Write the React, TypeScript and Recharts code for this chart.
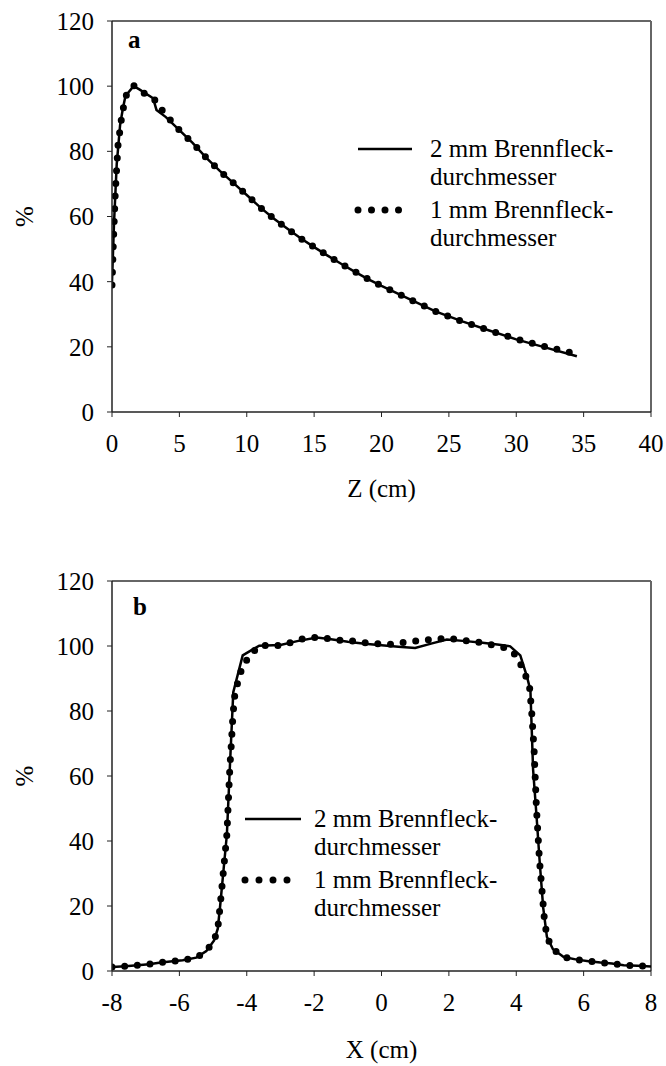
import React from "react";
import {
  Customized,
  Label,
  Legend,
  Line,
  LineChart,
  ReferenceLine,
  XAxis,
  YAxis,
} from "recharts";

const FONT = "'Liberation Serif', 'Times New Roman', serif";
const FS = 25;

// Panel a: depth dose, Z (cm) vs %
const zA2 = [0, 0.15, 0.35, 0.6, 0.8, 1.0, 1.6, 2.0, 3.05, 3.3, 4, 5, 6, 7, 8, 9, 10, 11, 12, 13, 14, 15, 16, 17, 18, 19, 20, 22, 24, 26, 28, 30, 32, 34.5];
const doseA2 = [40, 58, 76, 88, 93, 97, 100, 99.1, 96.3, 92.7, 90.5, 86.5, 82.5, 78, 74, 70.3, 66.6, 62.8, 59.4, 56.3, 53.3, 50.6, 48, 45.5, 43.1, 40.8, 38.7, 34.8, 30.9, 27.8, 25, 22.3, 20, 17.1];
const zA1 = [0, 0.1, 0.25, 0.45, 0.7, 0.85, 1.05, 1.6, 2.3, 3.1, 3.6, 4.3, 5, 6, 7, 8, 9, 10, 11, 12, 13, 14, 15, 16, 17, 18, 19, 20, 22, 24, 26, 28, 30, 32, 34];
const doseA1 = [39, 52, 68, 82, 90, 93.5, 97.1, 100.2, 98, 96.2, 93.2, 89.7, 86.5, 82.5, 78, 74, 70.3, 66.6, 62.8, 59.4, 56.3, 53.3, 50.6, 48, 45.5, 43.1, 40.8, 38.7, 34.8, 30.9, 27.8, 25, 22.4, 20.2, 18.3];
const ticksZ = [0, 5, 10, 15, 20, 25, 30, 35, 40];

// Panel b: lateral profile, X (cm) vs %
const xB2 = [-8, -7.6, -7.25, -6.9, -6.55, -6.2, -5.9, -5.5, -5.2, -4.97, -4.86, -4.79, -4.69, -4.59, -4.5, -4.4, -4.12, -3.63, -3.0, -2.5, -1.92, -1.5, -1.0, -0.5, 0, 0.5, 1.0, 1.5, 1.94, 2.5, 3.0, 3.5, 3.82, 4.12, 4.32, 4.42, 4.5, 4.6, 4.7, 4.8, 4.91, 5.09, 5.41, 5.8, 6.15, 6.5, 6.84, 7.19, 7.6, 8];
const doseB2 = [1.2, 1.45, 1.75, 2.1, 2.6, 3.0, 3.3, 4.1, 6.1, 9.4, 13, 20, 31, 42, 63, 85.8, 97.1, 100.1, 100.3, 101.5, 102.6, 102.1, 101.3, 100.7, 100.2, 99.8, 99.4, 100.8, 102.0, 101.5, 101, 100.4, 99.9, 97.1, 90.5, 86.4, 62, 48, 33, 19.5, 10.5, 6.7, 4.3, 3.5, 3.0, 2.6, 2.3, 1.8, 1.6, 1.4];
const xB1 = [-8, -7.6, -7.25, -6.9, -6.55, -6.2, -5.9, -5.5, -5.2, -4.97, -4.86, -4.79, -4.69, -4.59, -4.5, -4.47, -4.41, -4.35, -4.25, -4.15, -3.95, -3.63, -3.3, -2.93, -2.58, -2.24, -1.92, -1.57, -1.2, -0.85, -0.3, 0.21, 0.9, 1.59, 1.94, 2.28, 2.63, 3.0, 3.36, 3.71, 3.98, 4.16, 4.3, 4.4, 4.46, 4.53, 4.6, 4.69, 4.83, 4.91, 5.09, 5.41, 5.8, 6.15, 6.5, 6.84, 7.19, 7.6, 8];
const doseB1 = [1.2, 1.45, 1.75, 2.1, 2.6, 3.0, 3.3, 4.1, 6.1, 9.4, 13, 20, 31, 42, 63, 67.6, 78.7, 85.5, 89.4, 92.9, 96.6, 100.1, 100.2, 100.1, 101.6, 102.4, 102.7, 102.3, 101.7, 101.5, 100.8, 100.5, 101.4, 102.1, 102.3, 102, 101.4, 101, 100.1, 99.4, 97.3, 93.8, 90.3, 86.9, 79.4, 67.9, 50, 34, 16.6, 10.5, 6.7, 4.3, 3.5, 3.0, 2.6, 2.3, 1.8, 1.6, 1.4];
const ticksX = [-8, -6, -4, -2, 0, 2, 4, 6, 8];

const ticksY = [0, 20, 40, 60, 80, 100, 120];
const legendLabels = [
  ["2 mm Brennfleck-", "durchmesser"],
  ["1 mm Brennfleck-", "durchmesser"],
];

const toRows = (xs: number[], ys: number[]) => xs.map((x, i) => ({ x, y: ys[i] }));

const tickStyle = { fontSize: FS, fill: "#000", fontFamily: FONT };
const AXIS = "#222";
const BORDER = "#666";

function PercentLabel(props: any) {
  const vb = props.viewBox ?? {};
  const cx = 24;
  const cy = (vb.y ?? 0) + (vb.height ?? 0) / 2;
  return (
    <text
      x={cx}
      y={cy}
      transform={`rotate(-90 ${cx} ${cy})`}
      textAnchor="middle"
      dominantBaseline="central"
      fontFamily={FONT}
      fontSize={FS}
      fill="#000"
    >
      %
    </text>
  );
}

function LegendBox({ lineLen, textGap }: { lineLen: number; textGap: number }) {
  return (
    <div style={{ fontFamily: FONT, fontSize: FS, lineHeight: "28px", color: "#000", textAlign: "left" }}>
      {legendLabels.map((lines, i) => (
        <div key={i} style={{ display: "flex", alignItems: "flex-start", marginTop: i ? 5 : 0 }}>
          <svg width={lineLen + 8} height={28} style={{ flex: "none" }}>
            {i === 0 ? (
              <line x1={4} x2={lineLen + 4} y1={14} y2={14} stroke="#000" strokeWidth={2.5} />
            ) : (
              <line
                x1={4}
                x2={lineLen + 4}
                y1={14}
                y2={14}
                stroke="#000"
                strokeWidth={7}
                strokeLinecap="round"
                strokeDasharray={`0 ${lineLen / 4}`}
              />
            )}
          </svg>
          <div style={{ marginLeft: textGap, whiteSpace: "nowrap" }}>
            {lines.map((l, j) => (
              <div key={j}>{l}</div>
            ))}
          </div>
        </div>
      ))}
    </div>
  );
}

function Panel({
  letter,
  letterX,
  letterY,
  height,
  axisHeight,
  titleOffset,
  xTitle,
  domain,
  ticks,
  solid,
  dotted,
  legendPos,
  lineLen,
  textGap,
}: any) {
  return (
    <LineChart width={666} height={height} margin={{ top: 21, right: 15, left: 0, bottom: 0 }}>
      <XAxis
        type="number"
        dataKey="x"
        domain={domain}
        ticks={ticks}
        interval={0}
        allowDataOverflow
        height={axisHeight}
        tick={tickStyle}
        tickSize={5}
        tickMargin={17}
        stroke={AXIS}
        axisLine={{ stroke: AXIS, strokeWidth: 1.5 }}
        tickLine={{ stroke: AXIS }}
      >
        <Label value={xTitle} position="insideBottom" offset={titleOffset} style={{ fontFamily: FONT, fontSize: FS, fill: "#000" }} />
      </XAxis>
      <YAxis
        type="number"
        domain={[0, 120]}
        ticks={ticksY}
        interval={0}
        width={112}
        tick={tickStyle}
        tickSize={5}
        tickMargin={13}
        stroke={AXIS}
        axisLine={{ stroke: AXIS, strokeWidth: 1.5 }}
        tickLine={{ stroke: AXIS }}
      >
        <Label content={PercentLabel} />
      </YAxis>
      <ReferenceLine y={120} stroke={BORDER} strokeWidth={2} />
      <ReferenceLine x={domain[1]} stroke={BORDER} strokeWidth={2} />
      <Legend
        layout="horizontal"
        verticalAlign="middle"
        align="center"
        wrapperStyle={{ left: legendPos[0], top: legendPos[1], width: "auto" }}
        content={() => <LegendBox lineLen={lineLen} textGap={textGap} />}
      />
      <Line
        data={solid}
        dataKey="y"
        name="2 mm Brennfleck-durchmesser"
        type="linear"
        stroke="#000"
        strokeWidth={2.5}
        dot={false}
        isAnimationActive={false}
      />
      <Line
        data={dotted}
        dataKey="y"
        name="1 mm Brennfleck-durchmesser"
        type="linear"
        stroke="#000"
        strokeWidth={7}
        strokeLinecap="round"
        strokeDasharray="0 12.7"
        dot={false}
        isAnimationActive={false}
      />
      <Customized
        component={() => (
          <text x={letterX} y={letterY} fontFamily={FONT} fontSize={FS} fontWeight="bold" fill="#000">
            {letter}
          </text>
        )}
      />
    </LineChart>
  );
}

export default function App() {
  return (
    <div style={{ position: "absolute", left: 0, top: 0, width: 666, height: 1066, background: "#fff" }}>
      <div style={{ position: "absolute", left: 0, top: 0 }}>
        <Panel
          letter="a"
          letterX={128}
          letterY={48}
          height={533}
          axisHeight={121}
          titleOffset={36}
          xTitle="Z (cm)"
          domain={[0, 40]}
          ticks={ticksZ}
          solid={toRows(zA2, doseA2)}
          dotted={toRows(zA1, doseA1)}
          legendPos={[354, 135]}
          lineLen={54}
          textGap={14}
        />
      </div>
      <div style={{ position: "absolute", left: 0, top: 560 }}>
        <Panel
          letter="b"
          letterX={133}
          letterY={55}
          height={506}
          axisHeight={95}
          titleOffset={8}
          xTitle="X (cm)"
          domain={[-8, 8]}
          ticks={ticksX}
          solid={toRows(xB2, doseB2)}
          dotted={toRows(xB1, doseB1)}
          legendPos={[241, 245]}
          lineLen={56}
          textGap={9}
        />
      </div>
    </div>
  );
}
